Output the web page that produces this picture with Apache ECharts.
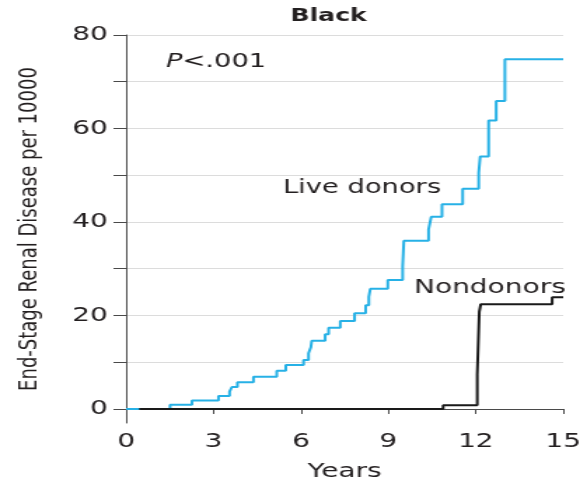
<!DOCTYPE html>
<html>
<head>
<meta charset="utf-8">
<script src="https://cdn.jsdelivr.net/npm/echarts@6/dist/echarts.min.js"></script>
<style>
  html, body { margin: 0; padding: 0; background: #fff; overflow: hidden; }
  /* the figure is laid out narrow and widened horizontally */
  #chart { width: 414px; height: 483px; transform: scaleX(1.401); transform-origin: 0 0; }
</style>
</head>
<body>
<div id="chart"></div>
<script>
// Cumulative incidence of ESRD per 10000, Black participants (Kaplan-Meier style steps)
const liveDonorYears = [0, 1.51, 2.26, 3.17, 3.55, 3.63, 3.82, 4.37, 5.17, 5.48, 6.09, 6.26, 6.34, 6.37, 6.83, 6.95, 7.35, 7.84, 8.22, 8.33, 8.38, 8.98, 9.49, 9.51, 9.53, 10.38, 10.47, 10.84, 11.55, 12.1, 12.15, 12.44, 12.7, 13.0, 15];
const liveDonorRate  = [0, 0.9, 1.8, 2.8, 3.7, 4.7, 5.7, 6.9, 8.2, 9.4, 10.5, 11.9, 13.2, 14.6, 16.0, 17.4, 18.8, 20.5, 22.2, 24.0, 25.7, 27.6, 30.5, 33.2, 36.0, 38.4, 41.1, 43.8, 47.1, 50.5, 54.0, 61.7, 65.9, 74.8, 74.8];

const nondonorYears = [0.45, 10.88, 12.05, 12.12, 12.17, 14.62, 15];
const nondonorRate  = [0, 0.8, 7.3, 20.8, 22.4, 23.9, 23.9];

const xTickValues = [0, 3, 6, 9, 12, 15];
const yTickValues = [0, 10, 20, 30, 40, 50, 60, 70, 80];
const yLabelValues = [0, 20, 40, 60, 80];

const FONT = 'DejaVu Sans';
const INK = '#231f20';
const AXIS = '#4a4a4a';

const pairs = (xs, ys) => xs.map((x, i) => [x, ys[i]]);

const chart = echarts.init(document.getElementById('chart'), null, { renderer: 'canvas' });

chart.setOption({
  animation: false,
  backgroundColor: '#ffffff',
  grid: { left: 90, right: 12, top: 35, bottom: 60, containLabel: false, outerBoundsMode: 'none' },
  xAxis: {
    type: 'value',
    min: 0,
    max: 15,
    interval: 3,
    name: 'Years',
    nameLocation: 'middle',
    nameGap: 39,
    nameTextStyle: { fontFamily: FONT, fontSize: 20, color: INK },
    axisLine: { show: true, lineStyle: { color: AXIS, width: 1 } },
    axisTick: { show: true, inside: false, length: 5, customValues: xTickValues, lineStyle: { color: AXIS } },
    axisLabel: { margin: 9, fontFamily: FONT, fontSize: 20, color: INK, customValues: xTickValues },
    splitLine: { show: false }
  },
  yAxis: {
    type: 'value',
    min: -3,
    max: 80,
    name: 'End-Stage Renal Disease per 10000',
    nameLocation: 'middle',
    nameGap: 60,
    nameTextStyle: { fontFamily: FONT, fontSize: 18, color: INK },
    axisLine: { show: true, lineStyle: { color: AXIS, width: 1 } },
    axisTick: { show: true, inside: false, length: 9, customValues: yTickValues, lineStyle: { color: AXIS } },
    axisLabel: { margin: 13, fontFamily: FONT, fontSize: 20, color: INK, customValues: yLabelValues },
    splitLine: { show: true, lineStyle: { color: '#dcdcdc', width: 1 } }
  },
  series: [
    {
      name: 'Live donors',
      type: 'line',
      step: 'end',
      showSymbol: false,
      data: pairs(liveDonorYears, liveDonorRate),
      lineStyle: { color: '#27b1e6', width: 2 },
      z: 2
    },
    {
      name: 'Nondonors',
      type: 'line',
      step: 'end',
      showSymbol: false,
      data: pairs(nondonorYears, nondonorRate),
      lineStyle: { color: '#1a1a1a', width: 2 },
      z: 3
    }
  ],
  graphic: [
    {
      type: 'text', x: 234.5, y: 16,
      style: { text: 'Black', fontFamily: FONT, fontWeight: 'bold', fontSize: 18, fill: INK, align: 'center', verticalAlign: 'middle' }
    },
    {
      type: 'text', x: 118.5, y: 62,
      style: {
        text: '{i|P}<.001',
        rich: { i: { fontStyle: 'italic', fontFamily: FONT, fontSize: 19.5, fill: INK } },
        fontFamily: FONT, fontSize: 19.5, fill: INK, align: 'left', verticalAlign: 'middle'
      }
    },
    {
      type: 'text', x: 202, y: 188,
      style: { text: 'Live donors', fontFamily: FONT, fontSize: 19.5, fill: INK, align: 'left', verticalAlign: 'middle' }
    },
    {
      type: 'text', x: 295.5, y: 288,
      style: { text: 'Nondonors', fontFamily: FONT, fontSize: 20, fill: INK, align: 'left', verticalAlign: 'middle' }
    }
  ]
});
</script>
</body>
</html>
